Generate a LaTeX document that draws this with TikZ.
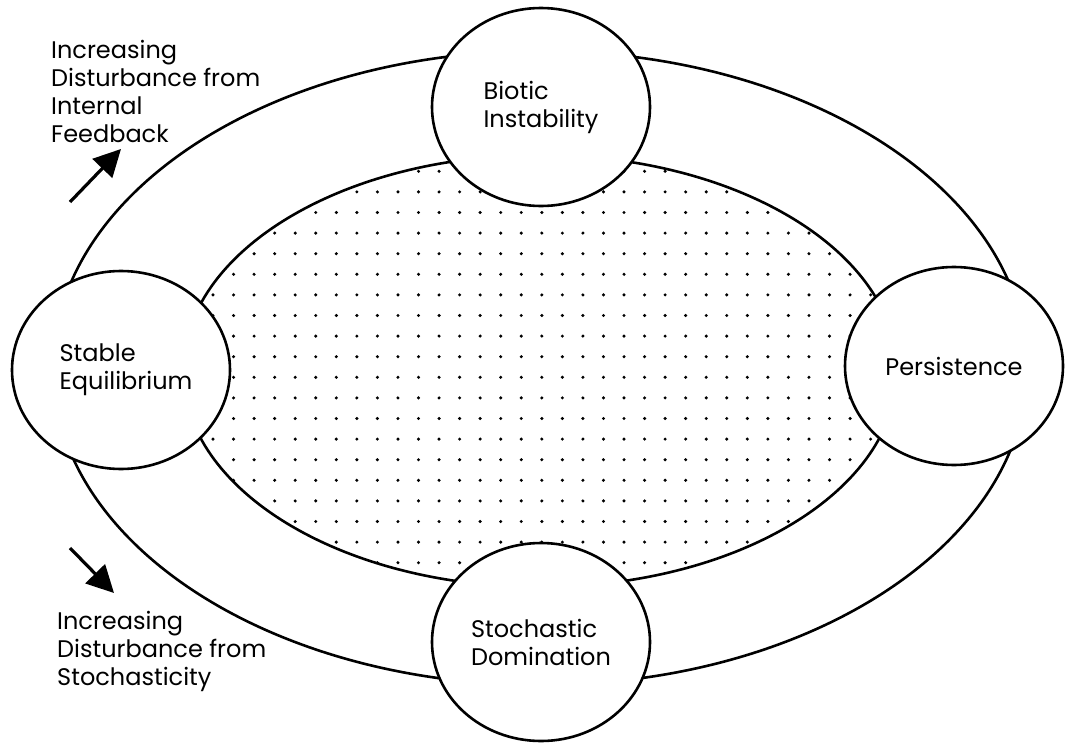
\documentclass[tikz,border=0pt]{standalone}
\usepackage{fontspec}
\setmainfont{Poppins}
\usetikzlibrary{shapes.geometric,arrows.meta}
\begin{document}
\begin{tikzpicture}[x=1pt,y=-1pt,
  ring/.style={draw=black, line width=2.6pt},
  stage/.style={ellipse, draw=black, line width=2.6pt, fill=white,
    minimum width=218pt, minimum height=198pt, inner sep=0pt,
    align=left, font=\fontsize{24}{28}\selectfont},
  note/.style={align=left, anchor=north west, inner sep=0pt,
    font=\fontsize{24}{28}\selectfont},
  trend/.style={line width=3.2pt, -{Triangle[length=27pt,width=27pt]}}
]
\useasboundingbox (0,0) rectangle (1065,744);
\fill[white] (0,0) rectangle (1065,744);
% outer ring
\draw[ring] (540,368) ellipse [x radius=487, y radius=317];
% dotted inner region
\begin{scope}
  \clip (540,371) ellipse [x radius=357, y radius=216];
  \foreach \i in {-21,...,14} {
    \foreach \j in {0,...,21} {
      \fill ({624+20.55*\i},{171.3+20.6*\j}) circle [radius=1.7pt];
    }
  }
\end{scope}
\draw[ring] (540,371) ellipse [x radius=357, y radius=216];
% stages
\node[stage] (biotic) at (541,107) {Biotic\\Instability};
\node[stage] (stable) at (121,370) {\hspace*{10pt}Stable\\\hspace*{10pt}Equilibrium};
\node[stage] (persist) at (954,366) {Persistence};
\node[stage] (stoch) at (541,642) {Stochastic\\Domination};
% labels
\node[note] (toplabel) at (51,40) {Increasing\\Disturbance from\\Internal\\Feedback};
\node[note] (botlabel) at (57,611) {Increasing\\Disturbance from\\Stochasticity};
% arrows
\coordinate (a1s) at (70,202);
\coordinate (a1e) at (121,149);
\draw[trend] (a1s) -- (a1e);
\coordinate (a2s) at (70,548);
\coordinate (a2e) at (114,593);
\draw[trend] (a2s) -- (a2e);
\end{tikzpicture}
\end{document}
